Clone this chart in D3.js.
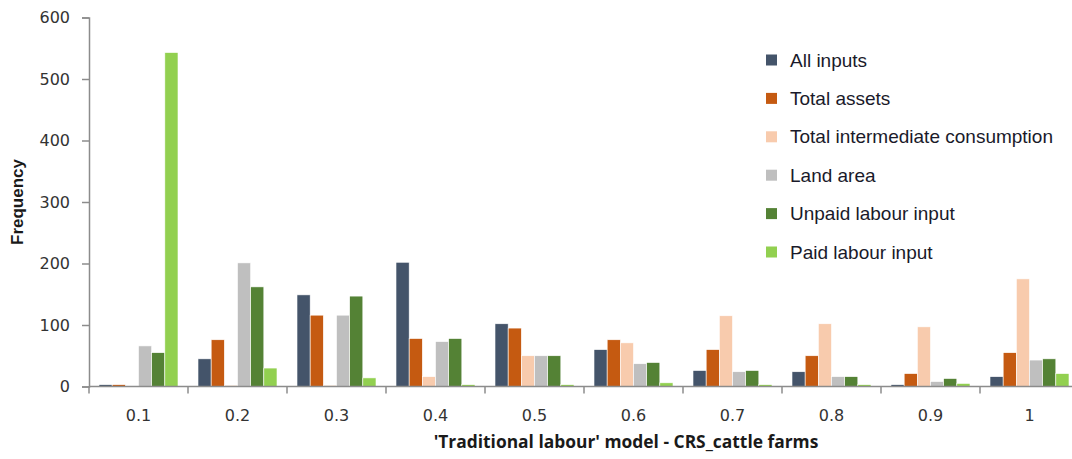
<!DOCTYPE html>
<html>
<head>
<meta charset="utf-8">
<script src="https://cdn.jsdelivr.net/npm/d3@7"></script>
<style>
  html, body { margin: 0; padding: 0; background: #fff; }
  svg { display: block; }
</style>
</head>
<body>
<svg id="chart" width="1072" height="459"></svg>
<script>
const categories = ["0.1", "0.2", "0.3", "0.4", "0.5", "0.6", "0.7", "0.8", "0.9", "1"];
const seriesNames = ["All inputs", "Total assets", "Total intermediate consumption", "Land area", "Unpaid labour input", "Paid labour input"];
const allInputs     = [3, 45, 149, 202, 102, 60, 26, 24, 3, 16];
const totalAssets   = [3, 76, 116, 78, 95, 76, 60, 50, 21, 55];
const intermediate  = [0, 2, 2, 16, 50, 71, 115, 102, 97, 175];
const landArea      = [66, 201, 116, 73, 50, 37, 24, 16, 8, 43];
const unpaidLabour  = [55, 162, 147, 78, 50, 39, 26, 16, 13, 45];
const paidLabour    = [543, 30, 14, 3, 3, 6, 3, 3, 5, 21];
const yTicks = [0, 100, 200, 300, 400, 500, 600];
const colors = ["#44546A", "#C55A11", "#F8CBAD", "#BFBFBF", "#548235", "#92D050"];

const seriesValues = [allInputs, totalAssets, intermediate, landArea, unpaidLabour, paidLabour];

const svg = d3.select("#chart");
const mLeft = 89, mRight = 1079, mTop = 17.5, mBottom = 386.5;

const x0 = d3.scaleBand().domain(categories).range([mLeft, mRight]).padding(0);
const x1 = d3.scaleBand().domain(seriesNames).range([10, x0.bandwidth() - 10]).padding(0);
const y = d3.scaleLinear().domain([0, 600]).range([mBottom, mTop]);

const axisColor = "#8c8c8c";
const textColor = "#333333";

// bars
const groups = svg.append("g").selectAll("g")
  .data(categories)
  .join("g")
  .attr("transform", d => `translate(${x0(d)},0)`);

groups.selectAll("rect")
  .data((c, ci) => seriesNames.map((s, si) => ({ s, si, v: seriesValues[si][ci] })))
  .join("rect")
  .attr("x", d => x1(d.s))
  .attr("width", x1.bandwidth())
  .attr("y", d => y(d.v))
  .attr("height", d => mBottom - y(d.v))
  .attr("fill", d => colors[d.si])
  .attr("stroke", "#ffffff")
  .attr("stroke-width", 0.6);

// y axis
const yAxis = svg.append("g")
  .attr("transform", `translate(${mLeft},0)`)
  .call(d3.axisLeft(y).tickValues(yTicks).tickSize(7).tickPadding(12).tickFormat(d3.format("d")));
yAxis.select(".domain").attr("stroke", axisColor).attr("stroke-width", 1.5);
yAxis.selectAll(".tick line").attr("stroke", axisColor).attr("stroke-width", 1.5);
yAxis.selectAll(".tick text")
  .attr("fill", textColor)
  .style("font-family", "'DejaVu Sans', sans-serif")
  .style("font-size", "16px");

// x axis (category boundary ticks)
const xAxisG = svg.append("g").attr("transform", `translate(0,${mBottom})`);
xAxisG.append("line")
  .attr("x1", mLeft).attr("x2", mRight)
  .attr("stroke", axisColor).attr("stroke-width", 1.5);
const boundaries = categories.map(c => x0(c)).concat([x0(categories[categories.length - 1]) + x0.bandwidth()]);
xAxisG.selectAll("line.bt")
  .data(boundaries)
  .join("line")
  .attr("class", "bt")
  .attr("x1", d => d).attr("x2", d => d)
  .attr("y1", 0).attr("y2", 7)
  .attr("stroke", axisColor).attr("stroke-width", 1.5);
xAxisG.selectAll("text.cat")
  .data(categories)
  .join("text")
  .attr("class", "cat")
  .attr("x", d => x0(d) + x0.bandwidth() / 2)
  .attr("y", 34)
  .attr("text-anchor", "middle")
  .attr("fill", textColor)
  .style("font-family", "'DejaVu Sans', sans-serif")
  .style("font-size", "16px")
  .text(d => d);

// axis titles
svg.append("text")
  .attr("x", 626)
  .attr("y", 448)
  .attr("text-anchor", "middle")
  .attr("fill", "#1a1a1a")
  .style("font-family", "'Open Sans', sans-serif")
  .style("font-weight", "bold")
  .style("font-size", "17.4px")
  .text("'Traditional  labour' model - CRS_cattle farms");

svg.append("text")
  .attr("transform", "translate(23,202) rotate(-90)")
  .attr("text-anchor", "middle")
  .attr("fill", "#1a1a1a")
  .style("font-family", "'Liberation Sans', Arial, sans-serif")
  .style("font-weight", "bold")
  .style("font-size", "17px")
  .text("Frequency");

// legend
const legend = svg.append("g").selectAll("g")
  .data(seriesNames)
  .join("g")
  .attr("transform", (d, i) => `translate(766,${60 + i * 38.4})`);
legend.append("rect")
  .attr("x", 0).attr("y", -5.5)
  .attr("width", 11).attr("height", 11)
  .attr("fill", (d, i) => colors[i]);
legend.append("text")
  .attr("x", 24)
  .attr("y", 0)
  .attr("dy", "0.35em")
  .attr("fill", "#1a1a2a")
  .style("font-family", "'Liberation Sans', Arial, sans-serif")
  .style("font-size", "19px")
  .text(d => d);
</script>
</body>
</html>
